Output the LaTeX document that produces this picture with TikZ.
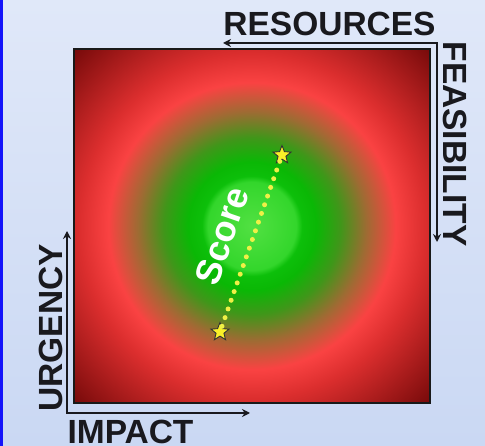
\documentclass[tikz,border=0pt]{standalone}
\usepackage{fontspec}
\setmainfont{Liberation Sans}
\usetikzlibrary{shapes.geometric,arrows.meta}
\definecolor{bgtop}{RGB}{224,232,249}
\definecolor{bgbot}{RGB}{202,216,243}
\definecolor{edgeblue}{RGB}{20,20,250}
\definecolor{axisdark}{RGB}{25,25,30}
\definecolor{staryellow}{RGB}{250,240,40}
\definecolor{dotyellow}{RGB}{240,240,70}
\pgfdeclareradialshading{heat}{\pgfpointorigin}{%
rgb(0bp)=(0.32,0.88,0.26);
rgb(44bp)=(0.20,0.84,0.17);
rgb(50bp)=(0.05,0.75,0.04);
rgb(64bp)=(0.04,0.72,0.02);
rgb(88bp)=(0.25,0.59,0.10);
rgb(114bp)=(0.62,0.42,0.20);
rgb(143bp)=(0.98,0.26,0.26);
rgb(172bp)=(0.86,0.18,0.18);
rgb(255bp)=(0.44,0.03,0.03)}
\tikzset{
  axislabel/.style={inner sep=0pt, text=axisdark, font=\fontsize{33.5}{33.5}\selectfont\bfseries},
  axisline/.style={line width=2.9pt, draw=axisdark, {Stealth[length=8pt,width=8pt]}-{Stealth[length=8pt,width=8pt]}},
  starnode/.style={star, star points=5, star point ratio=2.3, minimum size=19pt, inner sep=0pt, fill=staryellow, draw=black!80, line width=0.9pt},
  dotline/.style={draw=dotyellow, line width=5pt, line cap=round, dash pattern=on 0pt off 9.2pt},
  scoretext/.style={inner sep=0pt, text=white, font=\fontsize{36}{36}\selectfont\bfseries},
}
\begin{document}
\begin{tikzpicture}[x=1pt,y=-1pt]
\shade[top color=bgtop, bottom color=bgbot] (0,0) rectangle (485,446);
\useasboundingbox (0,0) rectangle (485,446);
\fill[edgeblue] (0,0) rectangle (3,446);
% field
\node[draw=black!90, line width=2.8pt, minimum width=356pt, minimum height=354pt, inner sep=0pt,
  path picture={\node[inner sep=0pt] at (path picture bounding box.center) {\pgfuseshading{heat}};}]
  (field) at (252,226) {};
% score line
\node[starnode] (s1) at (282,155) {};
\node[starnode] (s2) at (220,332) {};
\draw[dotline] (s2) -- (s1);
\node[scoretext, rotate=71] (score) at (222,236) {Score};
% axes
\coordinate (uy) at (67,231);
\coordinate (ix) at (250,413);
\draw[axisline] (uy) |- (ix);
\coordinate (rx) at (223,43);
\coordinate (fy) at (437,242);
\draw[axisline] (rx) -| (fy);
% labels
\node[axislabel, anchor=base] (impact) at (130.5,444) {IMPACT};
\node[axislabel, anchor=base, rotate=90] (urgency) at (62,328) {URGENCY};
\node[axislabel, anchor=base] (resources) at (329.5,36) {RESOURCES};
\node[axislabel, anchor=base, rotate=-90] (feasibility) at (443,144) {FEASIBILITY};
\end{tikzpicture}
\end{document}
